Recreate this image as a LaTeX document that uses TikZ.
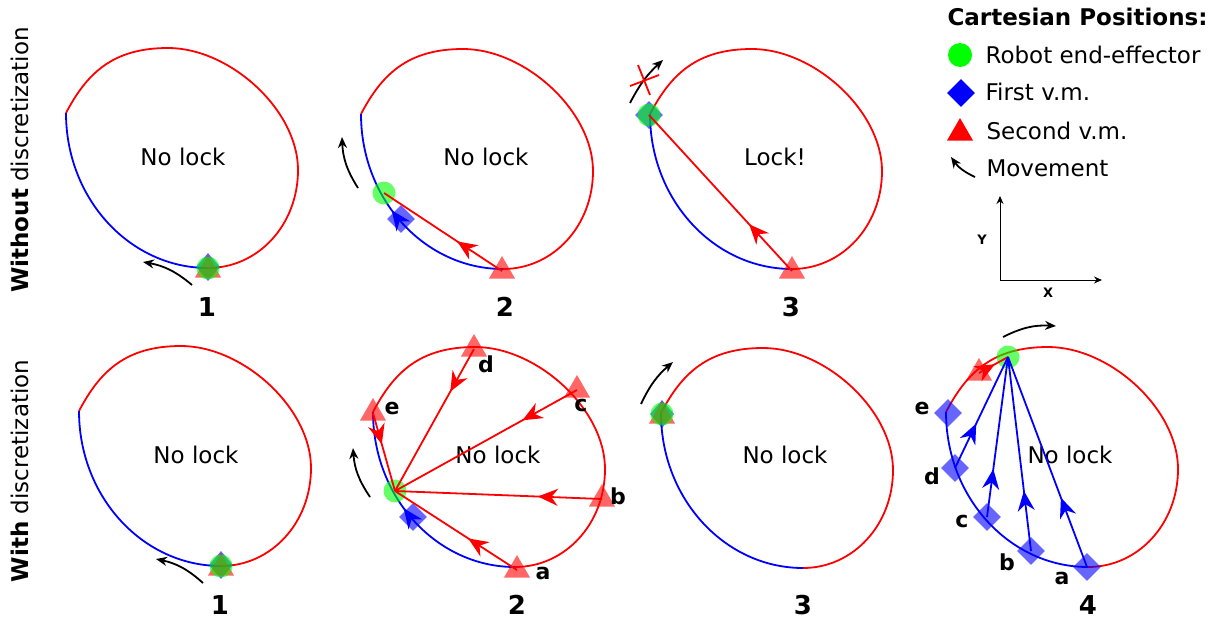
\documentclass[tikz,border=0pt]{standalone}
\usepackage{fontspec}
\setmainfont{DejaVu Sans}
\usetikzlibrary{arrows.meta,shapes.geometric,decorations.markings}

\tikzset{
  eeff/.style={circle, fill=green, fill opacity=0.6, minimum size=23pt, inner sep=0pt},
  fvm/.style={diamond, fill=blue, fill opacity=0.6, minimum size=28pt, inner sep=0pt},
  svm/.style={regular polygon, regular polygon sides=3, fill=red, fill opacity=0.6, minimum size=30pt, inner sep=0pt},
  move/.style={-{Stealth[length=11pt,width=9pt]}, line width=1.8pt},
  midarrow/.style={postaction={decorate}, decoration={markings, mark=at position #1 with {\arrow{Stealth[length=20pt,width=17pt]}}}},
  redline/.style={red, line width=1.8pt},
  blueline/.style={blue, line width=1.8pt},
  lbl/.style={font=\fontsize{23}{28}\selectfont},
  num/.style={font=\fontsize{26}{30}\selectfont\bfseries},
  tag/.style={font=\fontsize{22}{26}\selectfont\bfseries, inner sep=0pt},
}

% workspace boundary, shifted: red part and blue part
\newcommand{\wsp}[3]{%
  \begin{scope}[shift={(#1,#2)}]
    \draw[redline] (66,113) .. controls (87,73) and (113,48) .. (168,48)
      .. controls (230,48) and (298,110) .. (298,170)
      .. controls (298,225) and (258,268) .. (208,268);
    \draw[blueline, #3] (208,268) .. controls (130,268) and (66,199) .. (66,113);
  \end{scope}}

\begin{document}
\begin{tikzpicture}[x=1pt, y=-1pt]
  \useasboundingbox (0,0) rectangle (1231,619);

  % row titles
  \node[lbl, rotate=90] (rowa) at (20,160) {\textbf{Without} discretization};
  \node[lbl, rotate=90] (rowb) at (20,471) {\textbf{With} discretization};

  % ---------- top row ----------
  \wsp{0}{0}{}
  \node[lbl] (lk1) at (183,157) {No lock};
  \node[fvm, minimum width=24pt] (fa1) at (208,267) {};
  \node[svm] (sa1) at (208,270) {};
  \node[eeff] (ea1) at (208,268) {};
  \coordinate (ma1) at (192,285); \coordinate (mb1) at (143,262);
  \draw[move] (ma1) to[bend right=15] (mb1);
  \node[num] (n1) at (207,307) {1};

  \wsp{295}{1}{midarrow=0.56}
  \node[lbl] (lk2) at (486,157) {No lock};
  \node[svm] (sa2) at (502,271) {};
  \node[fvm] (fa2) at (401,219) {};
  \node[eeff] (ea2) at (384,193) {};
  \draw[redline, midarrow=0.38] (sa2.center) -- (ea2.center);
  \coordinate (ma2) at (358,188); \coordinate (mb2) at (342,137);
  \draw[move] (ma2) to[bend left=15] (mb2);
  \node[num] (n2) at (505,307) {2};

  \wsp{584}{1}{}
  \node[lbl] (lk3) at (775,157) {Lock!};
  \node[svm] (sa3) at (792,271) {};
  \node[fvm] (fa3) at (649,115) {};
  \node[eeff] (ea3) at (649,115) {};
  \draw[redline, midarrow=0.3] (sa3.center) -- (ea3.center);
  \coordinate (ma3) at (630,103); \coordinate (mb3) at (663,60);
  \draw[move] (ma3) to[bend left=10] (mb3);
  \coordinate (xa) at (638,65); \coordinate (xb) at (650,95);
  \coordinate (xc) at (630,86); \coordinate (xd) at (659,75);
  \draw[redline] (xa) -- (xb) (xc) -- (xd);
  \node[num] (n3) at (791,307) {3};

  % legend
  \node[font=\fontsize{23}{28}\selectfont\bfseries, anchor=west] (lgt) at (944,17) {Cartesian Positions:};
  \node[eeff, fill opacity=1, minimum size=24pt] (lge) at (960,55) {};
  \node[lbl, anchor=west] (lgte) at (982,55) {Robot end-effector};
  \node[fvm, fill opacity=1] (lgf) at (961,93) {};
  \node[lbl, anchor=west] (lgtf) at (982,92) {First v.m.};
  \node[svm, fill opacity=1] (lgs) at (960,133) {};
  \node[lbl, anchor=west] (lgts) at (983,131) {Second v.m.};
  \coordinate (lma) at (975,177); \coordinate (lmb) at (951,157);
  \draw[move] (lma) to[bend left=15] (lmb);
  \node[lbl, anchor=west] (lgtm) at (983,168) {Movement};

  % axes
  \coordinate (org) at (1000,280);
  \coordinate (ytop) at (1000,196);
  \coordinate (xend) at (1102,282);
  \draw[-{Stealth[length=8pt,width=7pt]}, line width=1pt] (org) -- (ytop);
  \draw[-{Stealth[length=8pt,width=7pt]}, line width=1pt] (org) -- (xend |- org);
  \node[font=\fontsize{13}{15}\selectfont\bfseries] (ylab) at (982,240) {Y};
  \node[font=\fontsize{13}{15}\selectfont\bfseries] (xlab) at (1048,293) {X};

  % ---------- bottom row ----------
  \wsp{13}{298}{}
  \node[lbl] (lk4) at (196,455) {No lock};
  \node[fvm, minimum width=24pt] (fb1) at (221,565) {};
  \node[svm] (sb1) at (221,568) {};
  \node[eeff] (eb1) at (221,566) {};
  \coordinate (mc1) at (203,583); \coordinate (md1) at (156,559);
  \draw[move] (mc1) to[bend right=15] (md1);
  \node[num] (n4) at (220,605) {1};

  \wsp{307}{299}{midarrow=0.56}
  \node[lbl] (lk5) at (498,455) {No lock};
  \node[svm] (sbe) at (373,413) {};
  \node[svm] (sbd) at (474,349) {};
  \node[svm] (sbc) at (577,390) {};
  \node[svm] (sbb) at (602,499) {};
  \node[svm] (sba) at (517,570) {};
  \node[fvm] (fb2) at (413,517) {};
  \node[eeff] (eb2) at (395,491) {};
  \draw[redline, midarrow=0.4] (sbe.center) -- (eb2.center);
  \draw[redline, midarrow=0.3] (sbd.center) -- (eb2.center);
  \draw[redline, midarrow=0.3] (sbc.center) -- (eb2.center);
  \draw[redline, midarrow=0.31] (sbb.center) -- (eb2.center);
  \draw[redline, midarrow=0.4] (sba.center) -- (eb2.center);
  \node[tag] (te2) at (392,408) {e};
  \node[tag] (td2) at (486,364) {d};
  \node[tag] (tc2) at (581,405) {c};
  \node[tag] (tb2) at (618,496) {b};
  \node[tag] (ta2) at (543,573) {a};
  \coordinate (mc2) at (370,497); \coordinate (md2) at (353,448);
  \draw[move] (mc2) to[bend left=15] (md2);
  \node[num] (n5) at (517,605) {2};

  \wsp{595}{300}{}
  \node[lbl] (lk6) at (785,455) {No lock};
  \node[fvm, minimum width=24pt] (fb3) at (662,414) {};
  \node[svm] (sb3) at (662,416) {};
  \node[eeff] (eb3) at (662,414) {};
  \coordinate (mc3) at (641,404); \coordinate (md3) at (673,362);
  \draw[move] (mc3) to[bend left=12] (md3);
  \node[num] (n6) at (803,605) {3};

  \wsp{880}{299}{}
  \node[lbl] (lk7) at (1070,455) {No lock};
  \node[svm] (sb4) at (979,373) {};
  \node[fvm] (fbe) at (948,413) {};
  \node[fvm] (fbd) at (955,468) {};
  \node[fvm] (fbc) at (987,517) {};
  \node[fvm] (fbb) at (1031,551) {};
  \node[fvm] (fba) at (1087,567) {};
  \node[eeff] (eb4) at (1008,357) {};
  \draw[redline, midarrow=0.55] (sb4.center) -- (eb4.center);
  \draw[blueline, midarrow=0.4] (fbd.center) -- (eb4.center);
  \draw[blueline, midarrow=0.3] (fbc.center) -- (eb4.center);
  \draw[blueline, midarrow=0.31] (fbb.center) -- (eb4.center);
  \draw[blueline, midarrow=0.33] (fba.center) -- (eb4.center);
  \node[tag] (te4) at (922,408) {e};
  \node[tag] (td4) at (932,476) {d};
  \node[tag] (tc4) at (962,521) {c};
  \node[tag] (tb4) at (1007,562) {b};
  \node[tag] (ta4) at (1062,578) {a};
  \coordinate (mc4) at (1003,337); \coordinate (md4) at (1056,326);
  \draw[move] (mc4) to[bend left=15] (md4);
  \node[num] (n7) at (1088,605) {4};
\end{tikzpicture}
\end{document}
